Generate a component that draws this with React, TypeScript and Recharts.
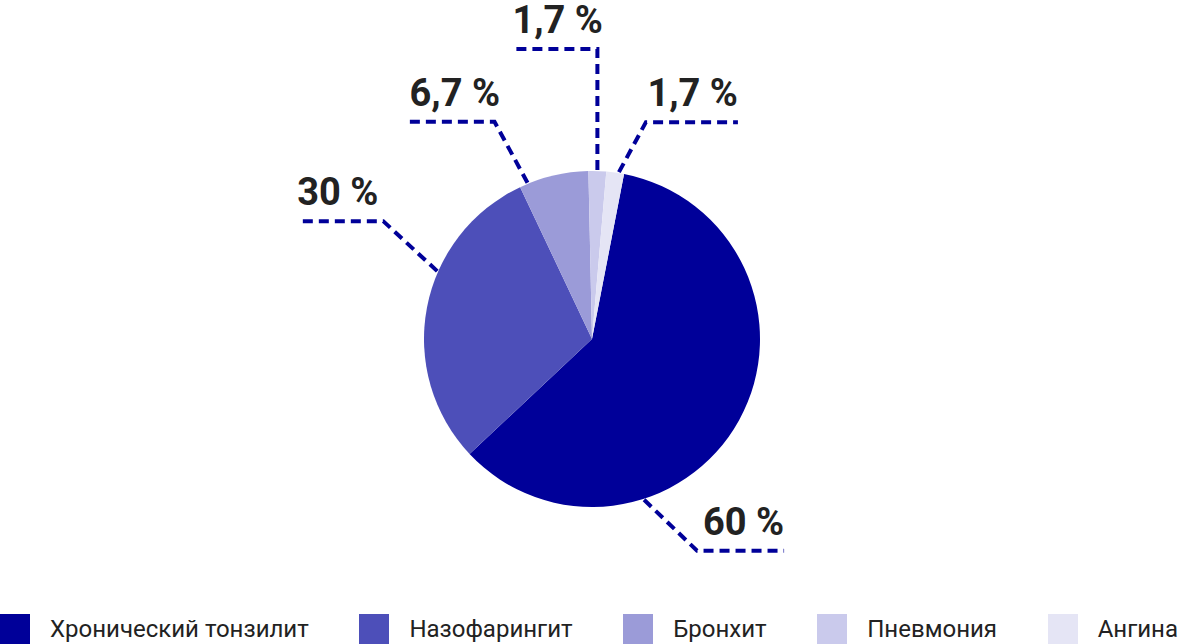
import React from 'react';
import { PieChart, Pie, Cell, Legend } from 'recharts';

const categories = ['Хронический тонзилит', 'Назофарингит', 'Бронхит', 'Пневмония', 'Ангина'];
const values = [60, 30, 6.7, 1.7, 1.7];
const valueLabels = ['60 %', '30 %', '6,7 %', '1,7 %', '1,7 %'];
const colors = ['#000099', '#4d4fb9', '#9b9bd8', '#cacaec', '#e5e5f5'];

// leader line layout: anchor fraction along the slice arc, elbow vector, horizontal run (sign = direction)
const leaderLayout = [
  { frac: 0.7, ex: 53, ey: 51, run: 87 },
  { frac: 0.62, ex: -54, ey: -50, run: -86 },
  { frac: 0.12, ex: -33, ey: -61, run: -85 },
  { frac: 0.5, ex: 0, ey: -121, run: -85 },
  { frac: 0.7, ex: 27, ey: -50, run: 92 },
];

const data = categories.map((name, i) => ({ name, value: values[i], label: valueLabels[i] }));

const RAD = Math.PI / 180;
const LINE_COLOR = '#000099';

const renderLabel = (props: any) => {
  const { cx, cy, outerRadius, startAngle, endAngle, index } = props;
  const lay = leaderLayout[index];
  const ang = startAngle + (endAngle - startAngle) * lay.frac;
  const r = outerRadius + 1;
  const ax = cx + r * Math.cos(-ang * RAD);
  const ay = cy + r * Math.sin(-ang * RAD);
  const bx = ax + lay.ex;
  const by = ay + lay.ey;
  const endX = bx + lay.run;
  const right = lay.run > 0;
  return (
    <g key={`lbl-${index}`}>
      <polyline
        points={`${ax},${ay} ${bx},${by} ${endX},${by}`}
        fill="none"
        stroke={LINE_COLOR}
        strokeWidth={4}
        strokeDasharray="10 6"
      />
      <text
        x={endX}
        y={by - 16}
        textAnchor={right ? 'end' : 'start'}
        fill="#222222"
        fontFamily="Roboto, sans-serif"
        fontWeight={700}
        fontSize={38}
      >
        {data[index].label}
      </text>
    </g>
  );
};

const renderLegend = () => (
  <div
    style={{
      display: 'flex',
      justifyContent: 'space-between',
      alignItems: 'center',
      width: 1178,
      height: 30,
      fontFamily: 'Roboto, sans-serif',
      fontSize: 24,
      color: '#222222',
    }}
  >
    {categories.map((c, i) => (
      <div key={c} style={{ display: 'flex', alignItems: 'center' }}>
        <div style={{ width: 30, height: 30, background: colors[i], marginRight: 20 }} />
        <span style={{ lineHeight: '30px', whiteSpace: 'nowrap' }}>{c}</span>
      </div>
    ))}
  </div>
);

export default function App() {
  return (
    <div style={{ position: 'absolute', left: 0, top: 0, width: 1178, height: 644, background: '#ffffff' }}>
      <PieChart width={1178} height={644} margin={{ top: 0, right: 0, bottom: 0, left: 0 }}>
        <Pie
          data={data}
          dataKey="value"
          nameKey="name"
          cx={592}
          cy={339}
          outerRadius={168}
          startAngle={79}
          endAngle={-281}
          stroke="none"
          label={renderLabel}
          labelLine={false}
          isAnimationActive={false}
        >
          {data.map((d, i) => (
            <Cell key={d.name} fill={colors[i]} />
          ))}
        </Pie>
        <Legend
          content={renderLegend}
          verticalAlign="bottom"
          wrapperStyle={{ position: 'absolute', left: 0, bottom: 0, width: 1178, height: 30 }}
        />
      </PieChart>
    </div>
  );
}
